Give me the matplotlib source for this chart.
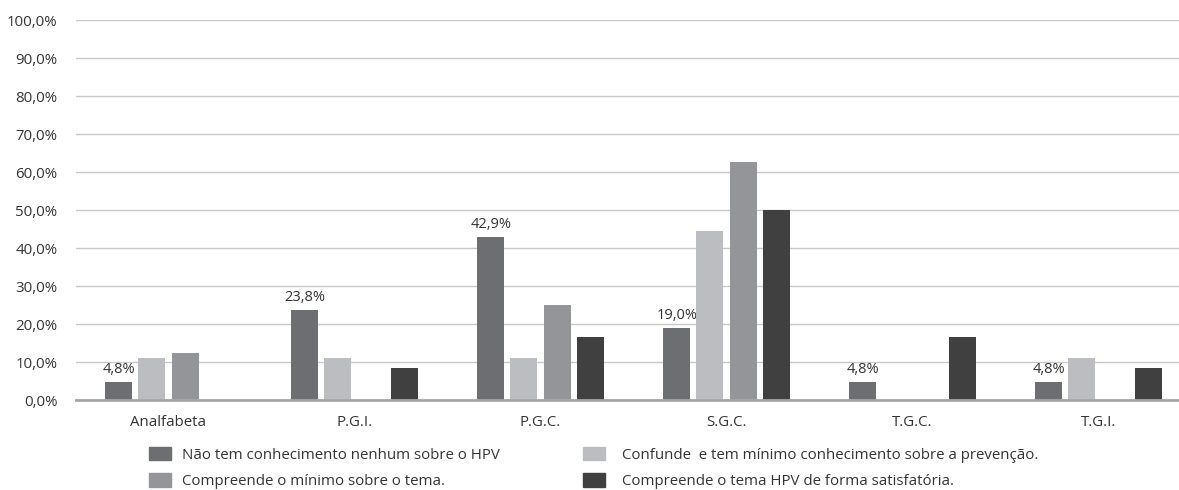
import matplotlib
matplotlib.use("Agg")
import matplotlib.pyplot as plt
import numpy as np
from matplotlib.patches import Patch

categories = ["Analfabeta", "P.G.I.", "P.G.C.", "S.G.C.", "T.G.C.", "T.G.I."]
series_names = [
    "Não tem conhecimento nenhum sobre o HPV",
    "Confunde  e tem mínimo conhecimento sobre a prevenção.",
    "Compreende o mínimo sobre o tema.",
    "Compreende o tema HPV de forma satisfatória.",
]
nao_tem = [4.8, 23.8, 42.9, 19.0, 4.8, 4.8]
confunde = [11.1, 11.1, 11.1, 44.4, 0.0, 11.1]
compreende_min = [12.5, 0.0, 25.0, 62.5, 0.0, 0.0]
compreende_sat = [0.0, 8.3, 16.7, 50.0, 16.7, 8.3]
labelled_series = nao_tem
yticks = [0, 10, 20, 30, 40, 50, 60, 70, 80, 90, 100]

colors = ["#6d6e71", "#bcbdc0", "#939598", "#404040"]
plt.rcParams['font.family'] = ['Open Sans', 'DejaVu Sans']

fig = plt.figure(figsize=(11.79, 4.9), dpi=100)
ax = fig.add_axes([75.5/1179, 1 - 400/490, 1116/1179, 380/490])

data = [nao_tem, confunde, compreende_min, compreende_sat]
x = np.arange(len(categories))
w = 0.145
step = 0.178
handles = []
for i, (vals, c) in enumerate(zip(data, colors)):
    offs = (i - 1.5) * step
    ax.bar(x + offs, vals, width=w, color=c, zorder=3)
    handles.append(Patch(color=c, label=series_names[i]))
    if vals is labelled_series:
        for xi, v in zip(x + offs, vals):
            ax.text(xi, v + 1.2, f"{v:.1f}%".replace(".", ","), ha="center", va="bottom",
                    fontsize=10.5, color="#333333")

ax.set_xlim(-0.5, len(categories) - 0.5)
ax.set_ylim(0, 100)
ax.set_yticks(yticks)
ax.set_yticklabels([f"{t:.1f}%".replace(".", ",") for t in yticks], fontsize=10.8, color="#333333")
ax.set_xticks(x)
ax.set_xticklabels(categories, fontsize=10.8, color="#333333")
ax.tick_params(axis="both", length=0)
ax.tick_params(axis="y", pad=13)
ax.tick_params(axis="x", pad=11)
ax.yaxis.grid(True, color="#c8c8c8", linewidth=1, zorder=0)
for s in ["top", "right", "left"]:
    ax.spines[s].set_visible(False)
ax.spines["bottom"].set_color("#a6a6a6")
ax.spines["bottom"].set_linewidth(2)
ax.spines["bottom"].set_zorder(4)

legend_kw = dict(loc="upper left", frameon=False, fontsize=10.8, handlelength=1.45,
                 handleheight=1.0, borderpad=0, borderaxespad=0, labelspacing=0.7,
                 labelcolor="#333333")
col1 = [handles[0], handles[2]]
col2 = [handles[1], handles[3]]
leg1 = fig.legend(handles=col1, labels=[h.get_label() for h in col1],
                  bbox_to_anchor=(149/1179, 1 - 447/490), handletextpad=0.75, **legend_kw)
leg2 = fig.legend(handles=col2, labels=[h.get_label() for h in col2],
                  bbox_to_anchor=(583/1179, 1 - 447/490), handletextpad=1.15, **legend_kw)

fig.savefig("out.png", dpi=100)
